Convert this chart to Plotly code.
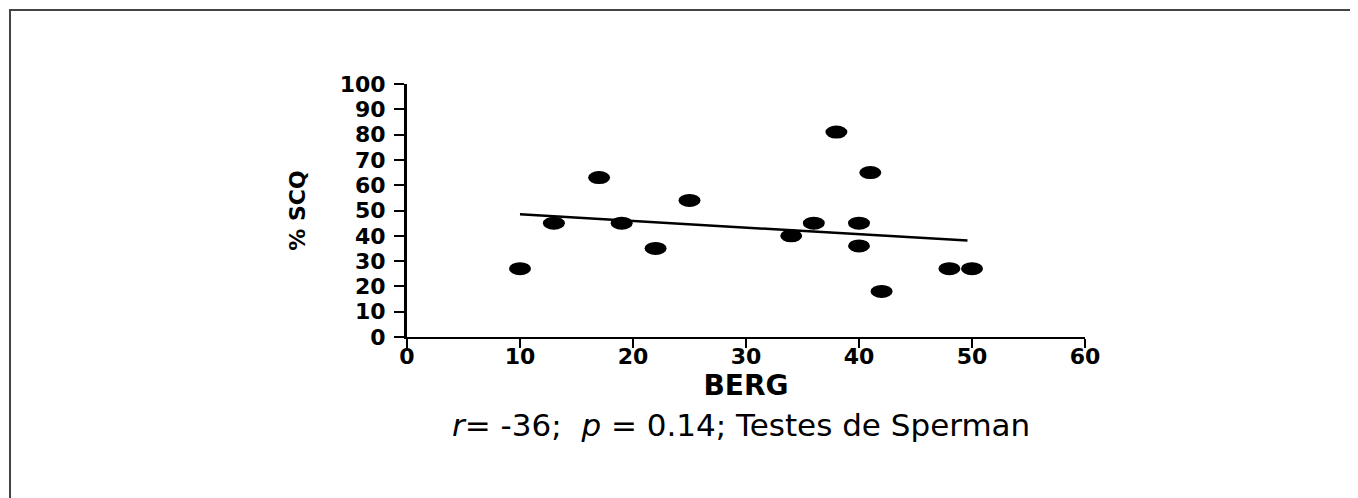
import plotly.graph_objects as go

# ---- data ----
berg = [10, 13, 17, 19, 22, 25, 34, 36, 38, 40, 40, 41, 42, 48, 50]
scq = [27, 45, 63, 45, 35, 54, 40, 45, 81, 45, 36, 65, 18, 27, 27]
fit_x = [10, 49.6]
fit_y = [48.5, 38.1]
x_ticks = [0, 10, 20, 30, 40, 50, 60]
y_ticks = [0, 10, 20, 30, 40, 50, 60, 70, 80, 90, 100]
x_title = "BERG"
y_title = "% SCQ"
caption = "<i>r</i>= -36;  <i>p</i> = 0.14; Testes de Sperman"

# page body has an 8px margin, so figure pixel = screen pixel - 8
OFF = 8
W, H = 1350, 490
L, T = 407 - OFF, 84 - OFF
pw, ph = 678, 253
R, B = W - L - pw, H - T - ph

def px_to_paper_x(px):
    return (px - OFF - L) / pw

def px_to_paper_y(py):
    return (T + ph - (py - OFF)) / ph

fig = go.Figure()
fig.add_trace(go.Scatter(x=fit_x, y=fit_y, mode="lines",
                         line=dict(color="black", width=2.5),
                         showlegend=False, hoverinfo="skip"))
fig.add_trace(go.Scatter(x=berg, y=scq, mode="markers",
                         marker=dict(color="black", size=12, symbol="circle"),
                         showlegend=False))

# elliptical dots, anchored at each data point
shapes = []
for xv, yv in zip(berg, scq):
    shapes.append(dict(type="circle", xref="x", yref="y",
                       xsizemode="pixel", xanchor=xv, x0=-11, x1=11,
                       ysizemode="pixel", yanchor=yv, y0=-6.5, y1=6.5,
                       fillcolor="black", line=dict(width=0), layer="above"))

# outer frame (left and top edges visible)
shapes.append(dict(type="line", xref="paper", yref="paper",
                   x0=px_to_paper_x(10), x1=px_to_paper_x(10),
                   y0=px_to_paper_y(9), y1=px_to_paper_y(520),
                   line=dict(color="#444444", width=2)))
shapes.append(dict(type="line", xref="paper", yref="paper",
                   x0=px_to_paper_x(9), x1=px_to_paper_x(1400),
                   y0=px_to_paper_y(10), y1=px_to_paper_y(10),
                   line=dict(color="#444444", width=2)))

tick_font = dict(family="DejaVu Sans", size=22, color="black", weight="bold")

fig.update_layout(
    width=W, height=H, autosize=False,
    margin=dict(l=L, r=R, t=T, b=B, pad=0),
    paper_bgcolor="white", plot_bgcolor="white",
    shapes=shapes,
    xaxis=dict(range=[0, 60], tickvals=x_ticks, ticks="outside", ticklen=9,
               tickwidth=2, tickcolor="black", showline=True, linecolor="black",
               linewidth=2, showgrid=False, zeroline=False, tickfont=tick_font,
               ticklabelstandoff=-10,
               title=dict(text=x_title, standoff=0,
                          font=dict(family="DejaVu Sans", size=28, color="black",
                                    weight="bold"))),
    yaxis=dict(range=[0, 100], tickvals=y_ticks, ticks="outside", ticklen=10,
               tickwidth=2, tickcolor="black", showline=True, linecolor="black",
               linewidth=3, showgrid=False, zeroline=False, tickfont=tick_font,
               ticklabelstandoff=4,
               title=dict(text=y_title, standoff=28,
                          font=dict(family="DejaVu Sans", size=22, color="black",
                                    weight="bold"))),
    annotations=[dict(text=caption, xref="paper", yref="paper",
                      x=px_to_paper_x(741), y=px_to_paper_y(425),
                      xanchor="center", yanchor="middle", showarrow=False,
                      font=dict(family="DejaVu Sans", size=31, color="black"))],
)

fig.write_html("out.html")
